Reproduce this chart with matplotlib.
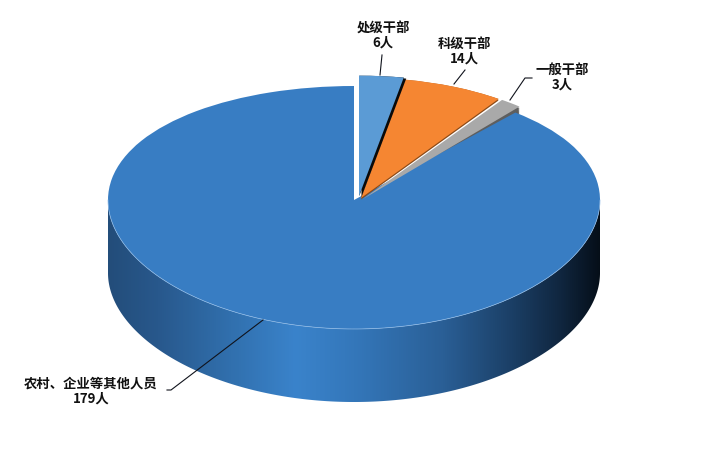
import numpy as np
import matplotlib
matplotlib.use("Agg")
import matplotlib.pyplot as plt
from matplotlib.colors import LinearSegmentedColormap
from matplotlib.patches import Polygon
from matplotlib.transforms import Affine2D, Transform

plt.rcParams['font.family'] = ['Noto Sans CJK SC', 'DejaVu Sans']

# ---- data ----
categories = ['处级干部', '科级干部', '一般干部', '农村、企业等其他人员']
values = [6, 14, 3, 179]
colors = ['#5B9BD5', '#F58632', '#A9A9A9', '#387DC3']

# ---- layout (pixels) ----
W, H = 718, 458
CX, CY, RX, RY = 354.0, 200.0, 246.0, 121.5
DEPTH = 73.0
BOW = 7.5 / RY


class Perspective(Transform):
    """Near half of the disc is drawn a little larger than the far half."""
    input_dims = output_dims = 2
    is_separable = False
    has_inverse = False

    def transform_non_affine(self, xy):
        xy = np.asarray(xy, dtype=float)
        return np.column_stack([xy[:, 0], xy[:, 1] - BOW * xy[:, 1] ** 2])


warp = Perspective()
fig = plt.figure(figsize=(W / 100, H / 100), dpi=100, facecolor='white')
ax = fig.add_axes([0, 0, 1, 1])


def slices(zorder):
    wedges, _ = ax.pie(values, colors=colors, startangle=90, counterclock=False,
                       radius=1, wedgeprops=dict(linewidth=0, zorder=zorder))
    return wedges


def shift(right_px, up_px):
    return Affine2D().translate(right_px / RX, up_px / RY)


# side wall of the disc: gradient clipped to the band below the front edge
t = np.linspace(np.pi, 2 * np.pi, 300)
front = warp.transform_non_affine(np.column_stack([np.cos(t), np.sin(t)]))
low = front + [0, -DEPTH / RY]
band = Polygon(np.vstack([front, low[::-1]]), closed=True, transform=ax.transData,
               facecolor='none', edgecolor='none')
ax.add_patch(band)
side_cmap = LinearSegmentedColormap.from_list('side', [
    (0.00, '#234D7A'), (0.10, '#28588C'), (0.25, '#3170AE'), (0.38, '#3A83CB'),
    (0.50, '#3477BA'), (0.68, '#2A5F96'), (0.82, '#1B3F66'), (0.92, '#10263F'),
    (1.00, '#050E18')])
img = ax.imshow(np.linspace(0, 1, 512)[None, :], cmap=side_cmap, aspect='auto',
                extent=(-1, 1, -2, 0), zorder=1)
img.set_clip_path(band)

# outer-edge scale and offset of the pulled-out slices
slice_scale = [(0.98, 1.06), (0.96, 1.06), (0.97, 1.06)]
slice_offset = [(5, 4), (7, 2), (9, 1)]
under = [(2.5, 1.0, '#0A0A0A'), (0, 1.5, '#8A4A18'), (0, 14.0, '#5E5E5E')]
top_z = [9, 7, 5]
under_z = [8, 6, 2]

# top faces
top = slices(3)
top[3].set_transform(warp + ax.transData)
for i in range(3):
    sx, sy = slice_scale[i]
    dx, dy = slice_offset[i]
    base = Affine2D().scale(sx, sy) + warp + shift(dx, dy)
    top[i].set_transform(base + ax.transData)
    top[i].set_zorder(top_z[i])

# dark side faces beneath the pulled-out slices: the slice swept along its depth
for i in range(3):
    sx, sy = slice_scale[i]
    dx, dy = slice_offset[i]
    ux, uy, col = under[i]
    for frac in np.linspace(0.1, 1, max(2, int(uy) + 1)):
        copy = slices(under_z[i])
        for j, w in enumerate(copy):
            if j != i:
                w.remove()
        base = Affine2D().scale(sx, sy) + warp + shift(dx + ux * frac, dy - uy * frac)
        copy[i].set_transform(base + ax.transData)
        copy[i].set_facecolor(col)

# thin light rim on the front edge
ax.plot(front[:, 0], front[:, 1], color='#8DB9E6', lw=0.5, zorder=4)

ax.set_aspect('auto')
ax.set_xlim(-CX / RX, (W - CX) / RX)
ax.set_ylim((CY - H) / RY, CY / RY)
ax.axis('off')

# ---- labels and leader lines, in pixel coordinates ----
ov = fig.add_axes([0, 0, 1, 1], facecolor='none')
ov.set_xlim(0, W)
ov.set_ylim(H, 0)
ov.axis('off')

label_pos = [(383, 35.5), (464, 51), (562, 77.5), (91, 391)]
leaders = [
    ([382, 380], [55, 75]),
    ([465, 454], [70, 84]),
    ([532, 525, 510], [78, 78, 100]),
    ([167, 171, 263], [390, 390, 320]),
]
for cat, val, (x, y), (lx, ly) in zip(categories, values, label_pos, leaders):
    ov.text(x, y, f'{cat}\n{val}人', ha='center', va='center', multialignment='center',
            fontsize=9.6, fontweight='bold', color='#111111', linespacing=1.05)
    ov.plot(lx, ly, color='#10131c', lw=0.8)

fig.savefig('out.png', dpi=100, facecolor='white')
